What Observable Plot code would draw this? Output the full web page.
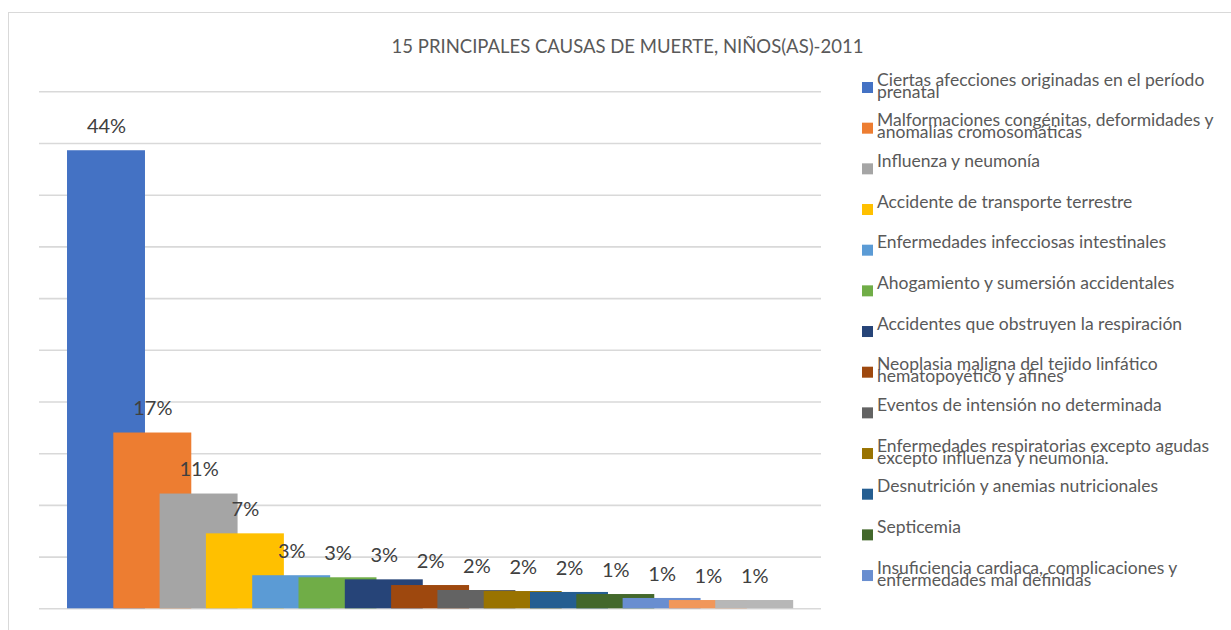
<!DOCTYPE html>
<html>
<head>
<meta charset="utf-8">
<script src="https://cdn.jsdelivr.net/npm/d3@7"></script>
<script src="https://cdn.jsdelivr.net/npm/@observablehq/plot@0.6"></script>
<style>
  html, body { margin: 0; padding: 0; background: #fff; }
  #root { position: relative; width: 1231px; height: 630px; overflow: hidden; font-family: Lato, "Open Sans", sans-serif; }
  #frame { position: absolute; left: 8px; top: 12px; width: 1300px; height: 700px; border-left: 1.6px solid #d9d9d9; border-top: 1.6px solid #d9d9d9; box-sizing: border-box; }
  #chart { position: absolute; left: 0; top: 0; }
  #overlay { position: absolute; left: 0; top: 0; }
</style>
</head>
<body>
<div id="root">
  <div id="frame"></div>
  <div id="chart"></div>
  <svg id="overlay" width="1231" height="630"></svg>
</div>
<script>
const title = "15 PRINCIPALES CAUSAS DE MUERTE, NIÑOS(AS)-2011";
const categories = [
  "Ciertas afecciones originadas en el período prenatal",
  "Malformaciones congénitas, deformidades y anomalías cromosomáticas",
  "Influenza y neumonía",
  "Accidente de transporte terrestre",
  "Enfermedades infecciosas intestinales",
  "Ahogamiento y sumersión accidentales",
  "Accidentes que obstruyen la respiración",
  "Neoplasia maligna del tejido linfático hematopoyético y afines",
  "Eventos de intensión no determinada",
  "Enfermedades respiratorias excepto agudas excepto influenza y neumonía.",
  "Desnutrición y anemias nutricionales",
  "Septicemia",
  "Insuficiencia cardiaca, complicaciones y enfermedades mal definidas",
  "Enfermedades del sistema nervioso",
  "Agresiones (homicidios)"
];
const values = [0.443, 0.170, 0.111, 0.0725, 0.032, 0.030, 0.028, 0.0225, 0.0177, 0.0167, 0.0158, 0.0138, 0.0100, 0.0080, 0.0080];
const colors = ["#4472C4", "#ED7D31", "#A5A5A5", "#FFC000", "#5B9BD5", "#70AD47", "#264478", "#9E480E", "#636363", "#997300", "#255E91", "#43682B", "#698ED0", "#F1975A", "#B7B7B7"];
const yTicks = [0, 0.05, 0.10, 0.15, 0.20, 0.25, 0.30, 0.35, 0.40, 0.45, 0.50];

const data = categories.map((name, i) => ({ i, name, value: values[i] }));
const fmt = d3.format(".0%");
const halfWidth = 0.842;
const font = "Lato, 'Open Sans', sans-serif";

const chart = Plot.plot({
  width: 840,
  height: 630,
  marginLeft: 39,
  marginRight: 19,
  marginTop: 91.3,
  marginBottom: 21.7,
  style: { background: "transparent", fontFamily: font, overflow: "visible" },
  x: { domain: [-1.447, 15.443], axis: null },
  y: { domain: [0, 0.5], axis: null },
  color: { domain: categories, range: colors },
  marks: [
    Plot.ruleY(yTicks, { stroke: "#d9d9d9", strokeWidth: 1.6 }),
    Plot.rect(data, { x1: d => d.i - halfWidth, x2: d => d.i + halfWidth, y1: 0, y2: "value", fill: "name" }),
    Plot.text(data, { x: "i", y: "value", text: d => fmt(d.value), dy: -24, fontSize: 20, fill: "#404040", fontFamily: font })
  ]
});
document.getElementById("chart").appendChild(chart);

const svg = d3.select("#overlay");
svg.append("text")
  .attr("x", 627.5).attr("y", 53)
  .attr("text-anchor", "middle")
  .attr("font-family", font)
  .attr("font-size", 18.5)
  .attr("fill", "#595959")
  .text(title);

// Legend (Excel-style, truncated where space runs out)
const legendX = 862, markerSize = 11, legendTop = 82, legendStep = 40.67, legendBottom = 605, maxLine = 345;
const legend = svg.append("g").attr("font-family", font).attr("font-size", 17.5).attr("fill", "#595959");
categories.forEach((name, k) => {
  const top = legendTop + legendStep * k;
  if (top + markerSize > legendBottom) return;
  legend.append("rect").attr("x", legendX).attr("y", top).attr("width", markerSize).attr("height", markerSize).attr("fill", colors[k]);
  const t = legend.append("text").attr("x", legendX + 15).attr("y", top + 3.5);
  const words = name.split(" ");
  let line = [];
  let tspan = t.append("tspan").attr("x", legendX + 15).attr("dy", 0);
  words.forEach(w => {
    line.push(w);
    tspan.text(line.join(" "));
    if (tspan.node().getComputedTextLength() > maxLine && line.length > 1) {
      line.pop();
      tspan.text(line.join(" "));
      line = [w];
      tspan = t.append("tspan").attr("x", legendX + 15).attr("dy", 12).text(w);
    }
  });
});
</script>
</body>
</html>
